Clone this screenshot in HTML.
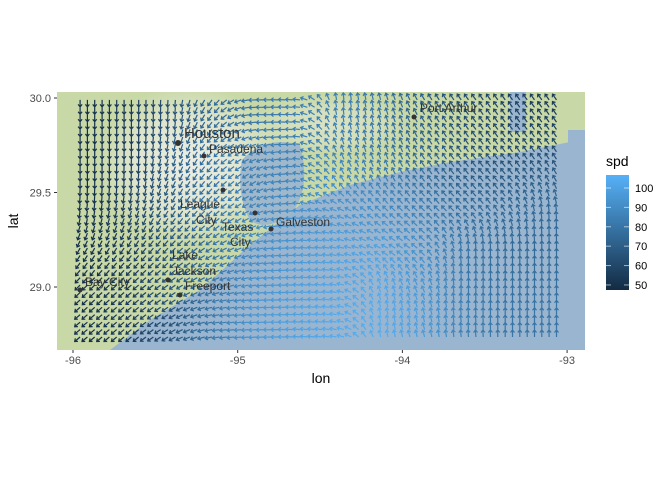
<!DOCTYPE html>
<html><head><meta charset="utf-8"><style>
body{margin:0;background:#fff;font-family:"Liberation Sans",sans-serif}
svg text{font-family:"Liberation Sans",sans-serif}
</style></head><body>
<svg id="chart" width="672" height="480" viewBox="0 0 672 480">
<defs>
<clipPath id="pc"><rect x="57" y="92" width="528" height="258"/></clipPath>
<linearGradient id="cg" x1="0" y1="1" x2="0" y2="0"><stop offset="0" stop-color="#132B43"/><stop offset="1" stop-color="#56B1F7"/></linearGradient>
<radialGradient id="hl"><stop offset="0" stop-color="#eceee6" stop-opacity="1"/><stop offset="0.6" stop-color="#e4e8d8" stop-opacity="0.8"/><stop offset="1" stop-color="#e4e8d8" stop-opacity="0"/></radialGradient>
</defs>
<g clip-path="url(#pc)">
<rect x="57" y="92" width="528" height="258" fill="#c8d8a6"/>
<ellipse cx="190" cy="165" rx="95" ry="80" fill="url(#hl)"/>
<ellipse cx="330" cy="125" rx="80" ry="30" fill="url(#hl)" opacity="0.5"/>
<path d="M57,350 L110,350 L150,320 L200,290 L250,245 L300,205 L350,185 L400,172 L450,162 L520,152 L570,142 L585,140 L585,350 Z" fill="#9ab5cf"/>
<path d="M242,160 Q265,135 300,145 Q312,190 290,215 Q265,232 250,220 Q236,195 242,160 Z" fill="#9fb8cc"/>
<rect x="510" y="92" width="16" height="40" fill="#9ab5cf"/>
<rect x="568" y="130" width="17" height="30" fill="#9ab5cf"/>
</g>
<g id="arrows" clip-path="url(#pc)"></g>
<g font-size="12" fill="#333">
<circle cx="178" cy="143" r="3" fill="#333"/><text x="184" y="138" font-size="15">Houston</text>
<circle cx="204" cy="156" r="2.5" fill="#333"/><text x="209" y="153">Pasadena</text>
<circle cx="223" cy="190" r="2.5" fill="#333"/>
<text x="180" y="208">League</text><text x="196" y="224">City</text>
<circle cx="255" cy="213" r="2.5" fill="#333"/><text x="222" y="231">Texas</text><text x="230" y="246">City</text>
<circle cx="271" cy="229" r="2.5" fill="#333"/><text x="276" y="226">Galveston</text>
<circle cx="414" cy="117" r="2.5" fill="#333"/><text x="420" y="112">Port Arthur</text>
<text x="172" y="259">Lake</text><text x="172" y="275">Jackson</text>
<circle cx="168" cy="280" r="2.5" fill="#333"/>
<circle cx="180" cy="295" r="2.5" fill="#333"/><text x="185" y="290">Freeport</text>
<circle cx="80" cy="290" r="2.5" fill="#333"/><text x="85" y="286">Bay City</text>
</g>
<g id="axes" font-size="11" fill="#4d4d4d"></g>
<text x="321" y="383" font-size="14" text-anchor="middle" fill="#000">lon</text>
<text transform="translate(18,221) rotate(-90)" font-size="14" text-anchor="middle" fill="#000">lat</text>
<g>
<text x="606" y="166" font-size="14" fill="#000">spd</text>
<rect x="606" y="175" width="23" height="115" fill="url(#cg)"/>
<g id="leg" font-size="11" fill="#000"></g>
</g>
</svg>
<script>
const lonTicks=[-96,-95,-94,-93];
const latTicks=[30.0,29.5,29.0];
const legTicks=[50,60,70,80,90,100];
const coarseLons=[-95.875,-95.625,-95.375,-95.125,-94.875,-94.625,-94.375,-94.125,-93.875,-93.625,-93.375,-93.125];
const coarseLats=[29.92,29.74,29.56,29.38,29.2,29.02,28.84];
const dirRow1=[-90,-90,-95,-130,180,175,95,105,120,125,125,125];
const dirRow2=[-90,-90,-105,-135,-160,175,110,105,120,125,125,125];
const dirRow3=[-90,-95,-115,-135,-150,170,120,115,125,130,130,120];
const dirRow4=[-100,-110,-125,-140,-155,175,160,140,135,135,120,95];
const dirRow5=[-120,-125,-135,-150,-165,175,170,155,140,95,90,90];
const dirRow6=[-135,-140,-145,-160,-170,175,170,110,115,90,90,90];
const dirRow7=[-140,-140,-150,-170,-175,175,170,100,105,95,90,90];
const spdRow1=[50,55,65,75,80,85,85,80,70,62,58,55];
const spdRow2=[50,55,70,80,85,85,85,80,72,65,60,60];
const spdRow3=[50,58,70,80,85,88,90,85,78,70,68,70];
const spdRow4=[50,58,70,80,88,92,95,92,85,78,75,75];
const spdRow5=[50,55,65,78,90,95,100,100,92,80,75,75];
const spdRow6=[50,55,65,80,92,98,102,103,95,82,78,78];
const spdRow7=[50,55,65,82,95,100,104,105,98,85,80,80];
const dirs=[dirRow1,dirRow2,dirRow3,dirRow4,dirRow5,dirRow6,dirRow7];
const spds=[spdRow1,spdRow2,spdRow3,spdRow4,spdRow5,spdRow6,spdRow7];
const NS="http://www.w3.org/2000/svg";
const xS=lon=>73+(lon+96)*164.7;
const yS=lat=>98+(30-lat)*189;
const vMin=47.4,vMax=106.7;
function col(v){let t=Math.max(0,Math.min(1,(v-vMin)/(vMax-vMin)));
const a=[0x13,0x2B,0x43],b=[0x56,0xB1,0xF7];
return 'rgb('+a.map((c,i)=>Math.round(c+(b[i]-c)*t)).join(',')+')';}
function pos(arr,v){
  let f=(v-arr[0])/(arr[1]-arr[0]);
  return Math.max(0,Math.min(arr.length-1,f));}
function sample(lon,lat){
  const fc=pos(coarseLons,lon), fr=pos(coarseLats,lat);
  const c0=Math.floor(fc),r0=Math.floor(fr),c1=Math.min(c0+1,11),r1=Math.min(r0+1,6);
  const tc=fc-c0,tr=fr-r0;
  let u=0,v=0,s=0;
  [[r0,c0,(1-tr)*(1-tc)],[r0,c1,(1-tr)*tc],[r1,c0,tr*(1-tc)],[r1,c1,tr*tc]].forEach(([r,c,w])=>{
    const a=dirs[r][c]*Math.PI/180;u+=Math.cos(a)*w;v+=Math.sin(a)*w;s+=spds[r][c]*w;});
  return [Math.atan2(v,u),s];}
const g=document.getElementById('arrows');
for(let r=0;r<33;r++){for(let c=0;c<66;c++){
const lon=-95.957+c*0.0445, lat=29.99-r*0.0392;
const [ang,s]=sample(lon,lat);
const x=xS(lon), y=yS(lat), L=7;
const dx=Math.cos(ang)*L, dy=-Math.sin(ang)*L;
const x2=x+dx,y2=y+dy, ux=dx/L,uy=dy/L;
const p=document.createElementNS(NS,'path');
const h=2.5;
const hx1=x2-ux*h-uy*h*0.8, hy1=y2-uy*h+ux*h*0.8, hx2=x2-ux*h+uy*h*0.8, hy2=y2-uy*h-ux*h*0.8;
p.setAttribute('d',`M${x.toFixed(1)},${y.toFixed(1)}L${x2.toFixed(1)},${y2.toFixed(1)}M${hx1.toFixed(1)},${hy1.toFixed(1)}L${x2.toFixed(1)},${y2.toFixed(1)}L${hx2.toFixed(1)},${hy2.toFixed(1)}`);
p.setAttribute('stroke',col(s));p.setAttribute('stroke-width','1.2');p.setAttribute('fill','none');


g.appendChild(p);}}
const ax=document.getElementById('axes');
lonTicks.forEach(v=>{const x=xS(v);
const t=document.createElementNS(NS,'text');t.setAttribute('x',x);t.setAttribute('y',364);t.setAttribute('text-anchor','middle');t.textContent=v;

ax.appendChild(t);
const l=document.createElementNS(NS,'line');l.setAttribute('x1',x);l.setAttribute('x2',x);l.setAttribute('y1',350);l.setAttribute('y2',353);l.setAttribute('stroke','#333');ax.appendChild(l);});
latTicks.forEach(v=>{const y=yS(v);
const t=document.createElementNS(NS,'text');t.setAttribute('x',51);t.setAttribute('y',y+4);t.setAttribute('text-anchor','end');t.textContent=v.toFixed(1);

ax.appendChild(t);
const l=document.createElementNS(NS,'line');l.setAttribute('x1',54);l.setAttribute('x2',57);l.setAttribute('y1',y);l.setAttribute('y2',y);l.setAttribute('stroke','#333');ax.appendChild(l);});
const lg=document.getElementById('leg');
legTicks.forEach(v=>{const y=175+(vMax-v)*(115/(vMax-vMin));
const t=document.createElementNS(NS,'text');t.setAttribute('x',635);t.setAttribute('y',y+4);t.textContent=v;

lg.appendChild(t);
[606,624].forEach(x0=>{const l=document.createElementNS(NS,'line');l.setAttribute('x1',x0);l.setAttribute('x2',x0+5);l.setAttribute('y1',y);l.setAttribute('y2',y);l.setAttribute('stroke','#fff');l.setAttribute('stroke-opacity','0.6');lg.appendChild(l);});});
</script>
</body></html>
